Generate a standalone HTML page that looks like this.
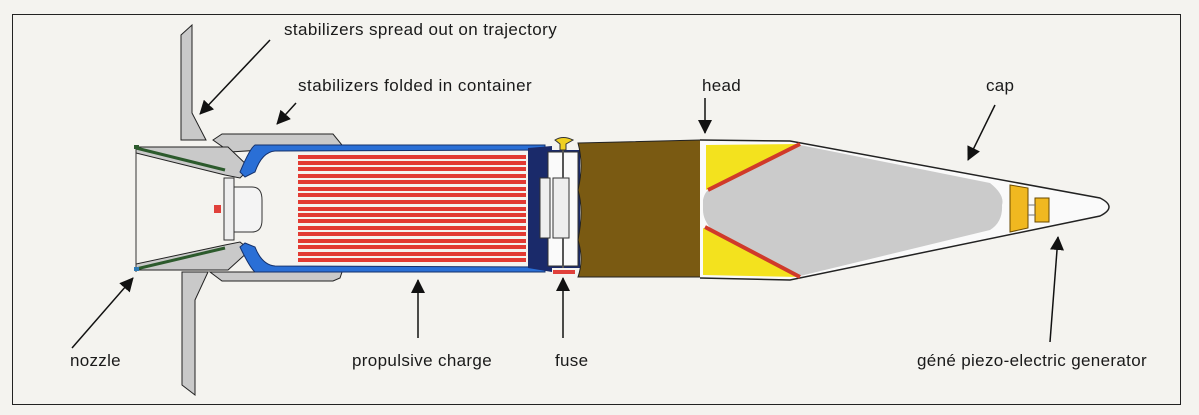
<!DOCTYPE html>
<html><head><style>
body{margin:0;background:#f4f3ef;}
svg{display:block}
text{font-family:"Liberation Sans",sans-serif;font-size:17px;letter-spacing:0.3px;fill:#1a1a1a}
</style></head><body>
<svg width="1199" height="415" viewBox="0 0 1199 415" xmlns="http://www.w3.org/2000/svg">
<defs>
<marker id="b" markerWidth="14" markerHeight="14" refX="13" refY="7" orient="auto" markerUnits="userSpaceOnUse" viewBox="0 0 14 14"><path d="M0,0 L14,7 L0,14 Z" fill="#111"/></marker></defs>
<rect x="12.5" y="14.5" width="1168" height="390" fill="#f4f3ef" stroke="#222" stroke-width="1"/>
<!-- fins -->
<path d="M181,35 L192,25 L192,113 L206,140 L181,140 Z" fill="#c9c9c9" stroke="#222"/>
<path d="M182,272 L208,272 L195,300 L195,395 L182,385 Z" fill="#c9c9c9" stroke="#222"/>
<!-- container sleeve -->
<path d="M213,140 L222,134 L333,134 L342,145 L230,152 Z" fill="#c9c9c9" stroke="#222"/>
<path d="M210,272 L342,272 L340,278 L333,281 L222,281 Z" fill="#c9c9c9" stroke="#222"/>
<!-- nozzle cone -->
<path d="M136,147 L228,147 L250,168 L240,178 L225,175 L136,153 Z" fill="#c9c9c9" stroke="#222"/>
<path d="M136,270 L228,270 L250,250 L240,242 L225,245 L136,264 Z" fill="#c9c9c9" stroke="#222"/>
<line x1="136" y1="148" x2="225" y2="170" stroke="#2c5a2c" stroke-width="3"/>
<line x1="136" y1="269" x2="225" y2="248" stroke="#2c5a2c" stroke-width="3"/>
<line x1="136" y1="146" x2="136" y2="272" stroke="#333"/>
<rect x="134" y="145" width="5" height="4" fill="#2c5a2c"/>
<rect x="134" y="267" width="5" height="4" fill="#2c7ab5"/>
<!-- base plug -->
<rect x="224" y="178" width="10" height="62" fill="#eee" stroke="#333"/>
<path d="M234,187 L252,187 Q262,187 262,200 L262,220 Q262,232 252,232 L234,232 Z" fill="#f4f4f4" stroke="#333"/>
<rect x="214" y="205" width="7" height="8" fill="#e0403a"/>
<!-- blue tube -->
<path d="M255,145 L545,145 L545,150 L275,151 Q262,152 255,172 L245,177 L240,172 Q250,148 255,145 Z" fill="#2a6fd6" stroke="#14306a"/>
<path d="M255,272 L545,272 L545,267 L275,266 Q262,265 255,247 L245,243 L240,247 Q250,268 255,272 Z" fill="#2a6fd6" stroke="#14306a"/>
<!-- charge -->
<g fill="#e23a32">
<rect x="298" y="155" width="228" height="4"/><rect x="298" y="161" width="228" height="4"/><rect x="298" y="167" width="228" height="4"/><rect x="298" y="174" width="228" height="4"/><rect x="298" y="180" width="228" height="4"/><rect x="298" y="187" width="228" height="4"/><rect x="298" y="193" width="228" height="4"/><rect x="298" y="200" width="228" height="4"/><rect x="298" y="207" width="228" height="4"/><rect x="298" y="213" width="228" height="4"/><rect x="298" y="219" width="228" height="4"/><rect x="298" y="226" width="228" height="4"/><rect x="298" y="232" width="228" height="4"/><rect x="298" y="239" width="228" height="4"/><rect x="298" y="245" width="228" height="4"/><rect x="298" y="252" width="228" height="4"/><rect x="298" y="258" width="228" height="4"/>
</g>
<!-- fuse -->
<path d="M528,148 L552,146 L552,272 L528,268 Z" fill="#1a2a6a"/>
<path d="M540,150 Q548,150 548,210 Q548,268 540,268 L580,268 L580,150 Z" fill="#1a2a6a"/>
<rect x="548" y="152" width="30" height="114" fill="#fafafa" stroke="#333"/>
<rect x="540" y="178" width="10" height="60" fill="#eee" stroke="#333"/>
<rect x="553" y="178" width="16" height="60" fill="#eee" stroke="#333"/>
<rect x="562" y="148" width="2" height="30" fill="#555"/><rect x="562" y="238" width="2" height="30" fill="#555"/>
<path d="M555,140 Q563,135 573,140 L566,144 L566,150 L560,150 L560,144 Z" fill="#f0d020" stroke="#333"/>
<rect x="553" y="270" width="22" height="4" fill="#e0403a"/>
<!-- head olive -->
<path d="M578,143 L700,140 L710,140 Q706,160 710,180 Q703,200 710,220 Q706,250 710,277 L578,277 Q584,260 578,240 Q584,210 578,190 Q584,165 578,143 Z" fill="#7a5a12" stroke="#222"/>
<!-- body outline -->
<path d="M700,140 L790,141 L1100,198 Q1118,207 1100,216 L790,280 L700,278" fill="#fafafa" stroke="#222" stroke-width="1.5"/>
<!-- yellow -->
<path d="M706,145 L800,144 L706,190 Z" fill="#f3e21e"/>
<path d="M703,228 L800,277 L703,275 Z" fill="#f3e21e"/>
<!-- gray ogive -->
<path d="M703,200 Q705,190 712,188 L800,145 L990,183 Q1005,195 1002,205 Q1003,222 990,230 L800,276 L712,230 Q703,220 703,210 Z" fill="#cbcbcb"/>
<line x1="708" y1="190" x2="800" y2="144" stroke="#d03a2a" stroke-width="4"/>
<line x1="705" y1="227" x2="800" y2="277" stroke="#d03a2a" stroke-width="4"/>
<!-- piezo -->
<path d="M1010,185 L1028,188 L1028,228 L1010,232 Z" fill="#f0b820" stroke="#6a4a00"/>
<rect x="1035" y="198" width="14" height="24" fill="#f0b820" stroke="#6a4a00"/>
<path d="M1028,205 L1036,205 M1028,215 L1036,215" stroke="#777"/>
<!-- labels -->
<text x="284" y="35" textLength="273">stabilizers spread out on trajectory</text>
<text x="298" y="91" textLength="234">stabilizers folded in container</text>
<text x="702" y="91">head</text>
<text x="986" y="91">cap</text>
<text x="70" y="366">nozzle</text>
<text x="352" y="366" textLength="140">propulsive charge</text>
<text x="555" y="366">fuse</text>
<text x="917" y="366" textLength="230">géné piezo-electric generator</text>
<!-- arrows -->
<g stroke="#111" stroke-width="1.5" fill="none">
<line x1="270" y1="40" x2="200" y2="114" marker-end="url(#b)"/>
<line x1="296" y1="103" x2="277" y2="124" marker-end="url(#b)"/>
<line x1="705" y1="98" x2="705" y2="133" marker-end="url(#b)"/>
<line x1="995" y1="105" x2="968" y2="160" marker-end="url(#b)"/>
<line x1="72" y1="348" x2="133" y2="278" marker-end="url(#b)"/>
<line x1="418" y1="338" x2="418" y2="280" marker-end="url(#b)"/>
<line x1="563" y1="338" x2="563" y2="278" marker-end="url(#b)"/>
<line x1="1050" y1="342" x2="1058" y2="237" marker-end="url(#b)"/>
</g>
</svg>
</body></html>
